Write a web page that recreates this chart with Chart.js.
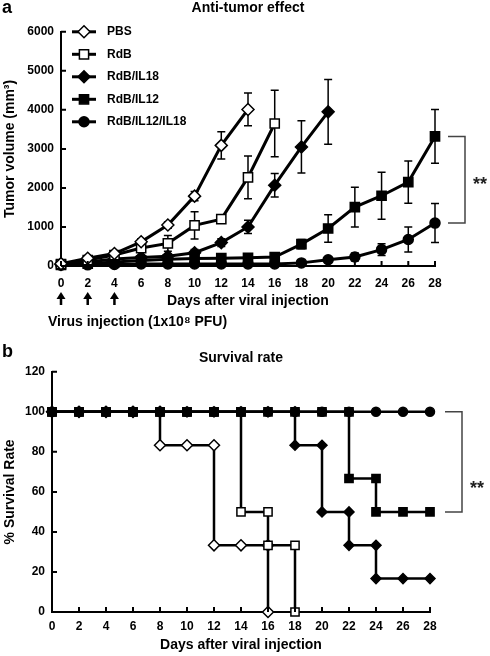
<!DOCTYPE html>
<html>
<head>
<meta charset="utf-8">
<script src="https://cdn.jsdelivr.net/npm/chart.js@4.4.0/dist/chart.umd.min.js"></script>
<style>
  body { margin: 0; background: #fff; }
  #wrapA { position: absolute; left: 0; top: 0; width: 490px; height: 340px; }
  #wrapB { position: absolute; left: 0; top: 340px; width: 490px; height: 316px; }
</style>
</head>
<body>
<div id="wrapA"><canvas id="chartA"></canvas></div>
<div id="wrapB"><canvas id="chartB"></canvas></div>
<script>
// Дни измерений
var days = [0, 2, 4, 6, 8, 10, 12, 14, 16, 18, 20, 22, 24, 26, 28];
var groupNames = ['PBS', 'RdB', 'RdB/IL18', 'RdB/IL12', 'RdB/IL12/IL18'];

// (a) объём опухоли, mm3, и ошибки
var pbsVolume = [60, 200, 320, 620, 1050, 1790, 3090, 4010];
var pbsVolumeErr = [20, 40, 60, 80, 80, 120, 350, 420];
var rdbVolume = [50, 150, 280, 460, 580, 1040, 1200, 2270, 3650];
var rdbVolumeErr = [20, 30, 50, 80, 200, 350, 90, 550, 850];
var il18Volume = [40, 100, 180, 220, 250, 340, 600, 1000, 2070, 3050, 3950];
var il18VolumeErr = [10, 20, 30, 40, 50, 80, 100, 170, 300, 670, 830];
var il12Volume = [30, 60, 100, 140, 170, 190, 200, 210, 230, 560, 960, 1510, 1800, 2150, 3320];
var il12VolumeErr = [10, 20, 20, 30, 30, 40, 40, 50, 60, 120, 350, 510, 600, 540, 690];
var il12il18Volume = [20, 30, 40, 50, 50, 50, 50, 50, 50, 80, 160, 230, 420, 680, 1100];
var il12il18VolumeErr = [10, 10, 10, 10, 10, 10, 10, 10, 10, 20, 60, 100, 150, 320, 500];

// (b) выживаемость, % (ступеньки через повторяющиеся дни)
var pbsSurvDays = [0, 2, 4, 6, 8, 8, 10, 12, 12, 14, 16, 16];
var pbsSurv = [100, 100, 100, 100, 100, 83.3, 83.3, 83.3, 33.3, 33.3, 33.3, 0];
var rdbSurvDays = [0, 2, 4, 6, 8, 10, 12, 14, 14, 16, 16, 18, 18];
var rdbSurv = [100, 100, 100, 100, 100, 100, 100, 100, 50, 50, 33.3, 33.3, 0];
var il18SurvDays = [0, 2, 4, 6, 8, 10, 12, 14, 16, 18, 18, 20, 20, 22, 22, 24, 24, 26, 28];
var il18Surv = [100, 100, 100, 100, 100, 100, 100, 100, 100, 100, 83.3, 83.3, 50, 50, 33.3, 33.3, 16.7, 16.7, 16.7];
var il12SurvDays = [0, 2, 4, 6, 8, 10, 12, 14, 16, 18, 20, 22, 22, 24, 24, 26, 28];
var il12Surv = [100, 100, 100, 100, 100, 100, 100, 100, 100, 100, 100, 100, 66.7, 66.7, 50, 50, 50];
var il12il18Surv = [100, 100, 100, 100, 100, 100, 100, 100, 100, 100, 100, 100, 100, 100, 100];

var fontFamily = "'Liberation Sans', Arial, Helvetica, sans-serif";
Chart.defaults.font.family = fontFamily;
Chart.defaults.font.weight = 'bold';
Chart.defaults.color = '#000';

function toPoints(xs, ys) {
  return ys.map(function(y, i) { return { x: xs[i], y: y }; });
}

function makeSet(label, points, style, radius, fill, lineWidth) {
  return {
    label: label,
    data: points,
    borderColor: '#000',
    borderWidth: lineWidth,
    pointStyle: style,
    pointRadius: radius,
    pointBackgroundColor: fill,
    pointBorderColor: '#000',
    pointBorderWidth: 1.5,
    clip: false
  };
}

// Засечки внутрь графика
var innerTicks = {
  id: 'innerTicks',
  afterDatasetsDraw: function(chart) {
    var ctx = chart.ctx, xs = chart.scales.x, ys = chart.scales.y, area = chart.chartArea;
    ctx.save();
    ctx.strokeStyle = '#000';
    ctx.lineWidth = 2;
    ctx.beginPath();
    xs.ticks.forEach(function(t) {
      var x = xs.getPixelForValue(t.value);
      ctx.moveTo(x, area.bottom);
      ctx.lineTo(x, area.bottom - 5);
    });
    ys.ticks.forEach(function(t) {
      var y = ys.getPixelForValue(t.value);
      ctx.moveTo(area.left, y);
      ctx.lineTo(area.left + 5, y);
    });
    ctx.stroke();
    ctx.restore();
  }
};

// Планки погрешностей
var errorBars = {
  id: 'errorBars',
  beforeDatasetsDraw: function(chart) {
    var ctx = chart.ctx, xs = chart.scales.x, ys = chart.scales.y;
    ctx.save();
    ctx.strokeStyle = '#000';
    ctx.lineWidth = 1.5;
    chart.data.datasets.forEach(function(ds) {
      if (!ds.errors) return;
      ds.data.forEach(function(p, i) {
        var e = ds.errors[i];
        var x = xs.getPixelForValue(p.x);
        var top = ys.getPixelForValue(p.y + e);
        var bottom = ys.getPixelForValue(Math.max(p.y - e, 0));
        ctx.beginPath();
        ctx.moveTo(x, top); ctx.lineTo(x, bottom);
        ctx.moveTo(x - 4, top); ctx.lineTo(x + 4, top);
        ctx.moveTo(x - 4, bottom); ctx.lineTo(x + 4, bottom);
        ctx.stroke();
      });
    });
    ctx.restore();
  }
};

function drawBracket(ctx, x, yTop, yBottom, starsY) {
  ctx.save();
  ctx.strokeStyle = '#444';
  ctx.lineWidth = 1.5;
  ctx.beginPath();
  ctx.moveTo(x - 17, yTop); ctx.lineTo(x, yTop);
  ctx.lineTo(x, yBottom); ctx.lineTo(x - 17, yBottom);
  ctx.stroke();
  ctx.fillStyle = '#222';
  ctx.font = 'bold 18px ' + fontFamily;
  ctx.textAlign = 'left';
  ctx.textBaseline = 'alphabetic';
  ctx.fillText('**', x + 8, starsY + 10);
  ctx.restore();
}

// Подписи, стрелки и легенда для графика (a)
var extrasA = {
  id: 'extrasA',
  afterDraw: function(chart) {
    var ctx = chart.ctx, xs = chart.scales.x, ys = chart.scales.y, area = chart.chartArea;
    ctx.save();
    ctx.fillStyle = '#000';
    ctx.textBaseline = 'middle';
    ctx.font = 'bold 18px ' + fontFamily;
    ctx.fillText('a', 2, 8);

    // стрелки инъекций
    [0, 2, 4].forEach(function(d) {
      var x = xs.getPixelForValue(d);
      ctx.beginPath();
      ctx.moveTo(x, 292); ctx.lineTo(x - 4.5, 299); ctx.lineTo(x + 4.5, 299);
      ctx.closePath(); ctx.fill();
      ctx.fillRect(x - 1.25, 298, 2.5, 7);
    });
    ctx.font = 'bold 14px ' + fontFamily;
    ctx.fillText('Virus injection (1x10\u2078 PFU)', 48, 322);

    // легенда внутри области графика
    chart.data.datasets.forEach(function(ds, i) {
      var y = area.top + i * 22.5;
      var x = area.left + 23;
      ctx.strokeStyle = '#000';
      ctx.lineWidth = 3;
      ctx.beginPath(); ctx.moveTo(x - 12, y); ctx.lineTo(x + 12, y); ctx.stroke();
      ctx.fillStyle = ds.pointBackgroundColor;
      ctx.lineWidth = 1.5;
      Chart.helpers.drawPoint(ctx, { pointStyle: ds.pointStyle, radius: ds.pointRadius, borderWidth: 1.5, rotation: 0 }, x, y);
      ctx.fillStyle = '#000';
      ctx.font = 'bold 12px ' + fontFamily;
      ctx.fillText(ds.label, area.left + 46, y);
    });
    ctx.restore();

    var yTop = ys.getPixelForValue(il12Volume[il12Volume.length - 1]);
    var yBottom = ys.getPixelForValue(il12il18Volume[il12il18Volume.length - 1]);
    drawBracket(ctx, area.right + 30, yTop, yBottom, (yTop + yBottom) / 2);
  }
};

var extrasB = {
  id: 'extrasB',
  afterDraw: function(chart) {
    var ctx = chart.ctx, ys = chart.scales.y, area = chart.chartArea;
    ctx.save();
    ctx.fillStyle = '#000';
    ctx.textBaseline = 'middle';
    ctx.font = 'bold 18px ' + fontFamily;
    ctx.fillText('b', 2, 12);
    ctx.restore();
    var yTop = ys.getPixelForValue(il12il18Surv[il12il18Surv.length - 1]);
    var yBottom = ys.getPixelForValue(il12Surv[il12Surv.length - 1]);
    drawBracket(ctx, area.right + 32, yTop, yBottom, yBottom - 28);
  }
};

function axisX(titlePadBottom, tickPad, height) {
  return {
    type: 'linear', min: 0, max: 28,
    ticks: { stepSize: 2, padding: tickPad, autoSkip: false, maxRotation: 0, font: { size: 12, weight: 'bold' } },
    grid: { display: false, drawTicks: false },
    border: { color: '#000', width: 2 },
    title: { display: true, text: 'Days after viral injection', font: { size: 14, weight: 'bold' }, padding: { top: 0, bottom: titlePadBottom } },
    afterFit: function(s) { s.height = height; }
  };
}

function axisY(text, max, step, width) {
  return {
    min: 0, max: max,
    ticks: { stepSize: step, padding: 7, font: { size: 12, weight: 'bold' }, callback: function(v) { return String(v); } },
    grid: { display: false, drawTicks: false },
    border: { color: '#000', width: 2 },
    title: { display: true, text: text, font: { size: 14, weight: 'bold' }, padding: { top: 2, bottom: 0 } },
    afterFit: function(s) { s.width = width; }
  };
}

var chartA = new Chart(document.getElementById('chartA'), {
  type: 'line',
  data: {
    datasets: [
      Object.assign(makeSet(groupNames[0], toPoints(days, pbsVolume), 'rectRot', 6, '#fff', 3), { errors: pbsVolumeErr }),
      Object.assign(makeSet(groupNames[1], toPoints(days, rdbVolume), 'rect', 6.5, '#fff', 3), { errors: rdbVolumeErr }),
      Object.assign(makeSet(groupNames[2], toPoints(days, il18Volume), 'rectRot', 6, '#000', 3), { errors: il18VolumeErr }),
      Object.assign(makeSet(groupNames[3], toPoints(days, il12Volume), 'rect', 6.5, '#000', 3), { errors: il12VolumeErr }),
      Object.assign(makeSet(groupNames[4], toPoints(days, il12il18Volume), 'circle', 5, '#000', 3), { errors: il12il18VolumeErr })
    ]
  },
  options: {
    responsive: true,
    maintainAspectRatio: false,
    animation: false,
    devicePixelRatio: 1,
    layout: { padding: { left: 0, right: 55, top: 0, bottom: 0 } },
    scales: {
      x: axisX(30, 10, 74),
      y: axisY('Tumor volume (mm\u00b3)', 6000, 1000, 61)
    },
    plugins: {
      legend: { display: false },
      tooltip: { enabled: false },
      title: { display: true, text: 'Anti-tumor effect', fullSize: false, font: { size: 14, weight: 'bold' }, padding: { top: 0, bottom: 15 } }
    }
  },
  plugins: [errorBars, innerTicks, extrasA]
});

var chartB = new Chart(document.getElementById('chartB'), {
  type: 'line',
  data: {
    datasets: [
      makeSet(groupNames[3], toPoints(il12SurvDays, il12Surv), 'rect', 5.8, '#000', 2.5),
      makeSet(groupNames[2], toPoints(il18SurvDays, il18Surv), 'rectRot', 5, '#000', 2.5),
      makeSet(groupNames[1], toPoints(rdbSurvDays, rdbSurv), 'rect', 5.8, '#fff', 2.5),
      makeSet(groupNames[0], toPoints(pbsSurvDays, pbsSurv), 'rectRot', 5.5, '#fff', 2.5),
      makeSet(groupNames[4], toPoints(days, il12il18Surv), 'circle', 4.5, '#000', 2.5)
    ]
  },
  options: {
    responsive: true,
    maintainAspectRatio: false,
    animation: false,
    devicePixelRatio: 1,
    layout: { padding: { left: 0, right: 60, top: 0, bottom: 0 } },
    scales: {
      x: axisX(2, 7, 44),
      y: axisY('% Survival Rate', 120, 20, 52)
    },
    plugins: {
      legend: { display: false },
      tooltip: { enabled: false },
      title: { display: true, text: 'Survival rate', fullSize: false, font: { size: 14, weight: 'bold' }, padding: { top: 10, bottom: 5 } }
    }
  },
  plugins: [innerTicks, extrasB]
});
</script>
</body>
</html>
